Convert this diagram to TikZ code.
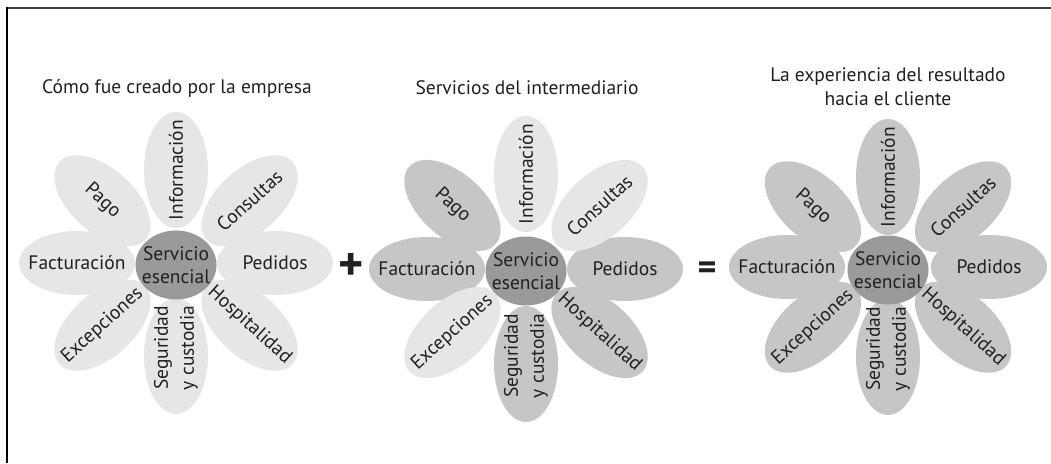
\documentclass[tikz,border=0pt]{standalone}
\usepackage{fontspec}
\setmainfont{PT Sans}
\usetikzlibrary{shapes.geometric,calc}
\definecolor{petLight}{HTML}{E6E6E7}
\definecolor{petMid}{HTML}{C6C6C8}
\definecolor{coreGrey}{HTML}{9A9A9C}
\definecolor{inkGrey}{HTML}{231F20}
\tikzset{
  petal/.style={ellipse, minimum width=116pt, minimum height=64pt, inner sep=0pt, draw=none},
  core/.style={ellipse, minimum width=81pt, minimum height=69pt, inner sep=0pt, fill=coreGrey, draw=none},
  ptext/.style={font=\fontsize{19.5}{26}\selectfont, text=inkGrey, align=center, inner sep=0pt},
  ctext/.style={font=\fontsize{19.5}{23}\selectfont, text=inkGrey, align=center, inner sep=0pt},
  ttl/.style={font=\fontsize{19.5}{24}\selectfont, text=inkGrey, align=center, inner sep=0pt},
  opsign/.style={text=inkGrey, inner sep=0pt},
  frameline/.style={line width=2pt}
}
\begin{document}
\begin{tikzpicture}[x=1pt,y=-1pt]
\useasboundingbox (0,0) rectangle (1051,463);
% frame
\draw[frameline, draw=black!75] (1051,7.5) -- (7,7.5);
\draw[frameline, draw=black] (7,6.5) -- (7,463);

% ---------- flower 1 ----------
\coordinate (c1) at (176,263);
\foreach \ang/\rot/\col/\txt/\sh [count=\i] in {
  0/0/petLight/Pedidos/0, 42/42/petLight/Consultas/0, 90/90/petLight/Información/0,
  138/-42/petLight/Pago/0, 180/0/petLight/Facturación/0, 222/42/petLight/Excepciones/0,
  270/90/petLight/{Seguridad\\y custodia}/8, 318/-42/petLight/Hospitalidad/0}{
  \node[petal, fill=\col, rotate=\rot] (p1-\i) at ($(c1)+({99*cos(\ang)},{-93*sin(\ang)})$) {};
}
\foreach \ang/\rot/\col/\txt/\sh [count=\i] in {
  0/0/petLight/Pedidos/0, 42/42/petLight/Consultas/0, 90/90/petLight/Información/0,
  138/-42/petLight/Pago/0, 180/0/petLight/Facturación/0, 222/42/petLight/Excepciones/0,
  270/90/petLight/{Seguridad\\y custodia}/8, 318/-42/petLight/Hospitalidad/0}{
  \node[ptext, rotate=\rot] (t1-\i) at ($(p1-\i.center)+({-\sh*cos(\ang)},{\sh*sin(\ang)})$) {\txt};
}
\node[core] (k1) at ($(c1)+(0,2)$) {};
\node[ctext] (kt1) at (k1.center) {Servicio\\esencial};
\node[ttl] (ttl1) at (177,88) {Cómo fue creado por la empresa};

% ---------- flower 2 ----------
\coordinate (c2) at (526,269);
\foreach \ang/\rot/\col/\txt/\sh [count=\i] in {
  0/0/petMid/Pedidos/0, 42/42/petLight/Consultas/0, 90/90/petLight/Información/0,
  138/-42/petMid/Pago/0, 180/0/petMid/Facturación/0, 222/42/petLight/Excepciones/0,
  270/90/petMid/{Seguridad\\y custodia}/8, 318/-42/petMid/Hospitalidad/0}{
  \node[petal, fill=\col, rotate=\rot] (p2-\i) at ($(c2)+({99*cos(\ang)},{-95*sin(\ang)})$) {};
}
\foreach \ang/\rot/\col/\txt/\sh [count=\i] in {
  0/0/petMid/Pedidos/0, 42/42/petLight/Consultas/0, 90/90/petLight/Información/0,
  138/-42/petMid/Pago/0, 180/0/petMid/Facturación/0, 222/42/petLight/Excepciones/0,
  270/90/petMid/{Seguridad\\y custodia}/8, 318/-42/petMid/Hospitalidad/0}{
  \node[ptext, rotate=\rot] (t2-\i) at ($(p2-\i.center)+({-\sh*cos(\ang)},{\sh*sin(\ang)})$) {\txt};
}
\node[core] (k2) at ($(c2)+(0,2)$) {};
\node[ctext] (kt2) at (k2.center) {Servicio\\esencial};
\node[ttl] (ttl2) at (527,88) {Servicios del intermediario};

% ---------- flower 3 ----------
\coordinate (c3) at (888,267);
\foreach \ang/\rot/\col/\txt/\sh [count=\i] in {
  0/0/petMid/Pedidos/0, 42/42/petMid/Consultas/0, 90/90/petMid/Información/0,
  138/-42/petMid/Pago/0, 180/0/petMid/Facturación/0, 222/42/petMid/Excepciones/0,
  270/90/petMid/{Seguridad\\y custodia}/8, 318/-42/petMid/Hospitalidad/0}{
  \node[petal, fill=\col, rotate=\rot] (p3-\i) at ($(c3)+({101*cos(\ang)},{-90*sin(\ang)})$) {};
}
\foreach \ang/\rot/\col/\txt/\sh [count=\i] in {
  0/0/petMid/Pedidos/0, 42/42/petMid/Consultas/0, 90/90/petMid/Información/0,
  138/-42/petMid/Pago/0, 180/0/petMid/Facturación/0, 222/42/petMid/Excepciones/0,
  270/90/petMid/{Seguridad\\y custodia}/8, 318/-42/petMid/Hospitalidad/0}{
  \node[ptext, rotate=\rot] (t3-\i) at ($(p3-\i.center)+({-\sh*cos(\ang)},{\sh*sin(\ang)})$) {\txt};
}
\node[core] (k3) at ($(c3)+(0,3)$) {};
\node[ctext] (kt3) at (k3.center) {Servicio\\esencial};
\node[ttl] (ttl3) at (888,87) {La experiencia del resultado\\hacia el cliente};

% operators
\node[opsign, font=\fontsize{48}{48}\selectfont\bfseries] (plus) at (351,267) {+};
\node[opsign, font=\fontsize{36}{36}\selectfont\bfseries] (equals) at (707,271) {=};
\end{tikzpicture}
\end{document}
